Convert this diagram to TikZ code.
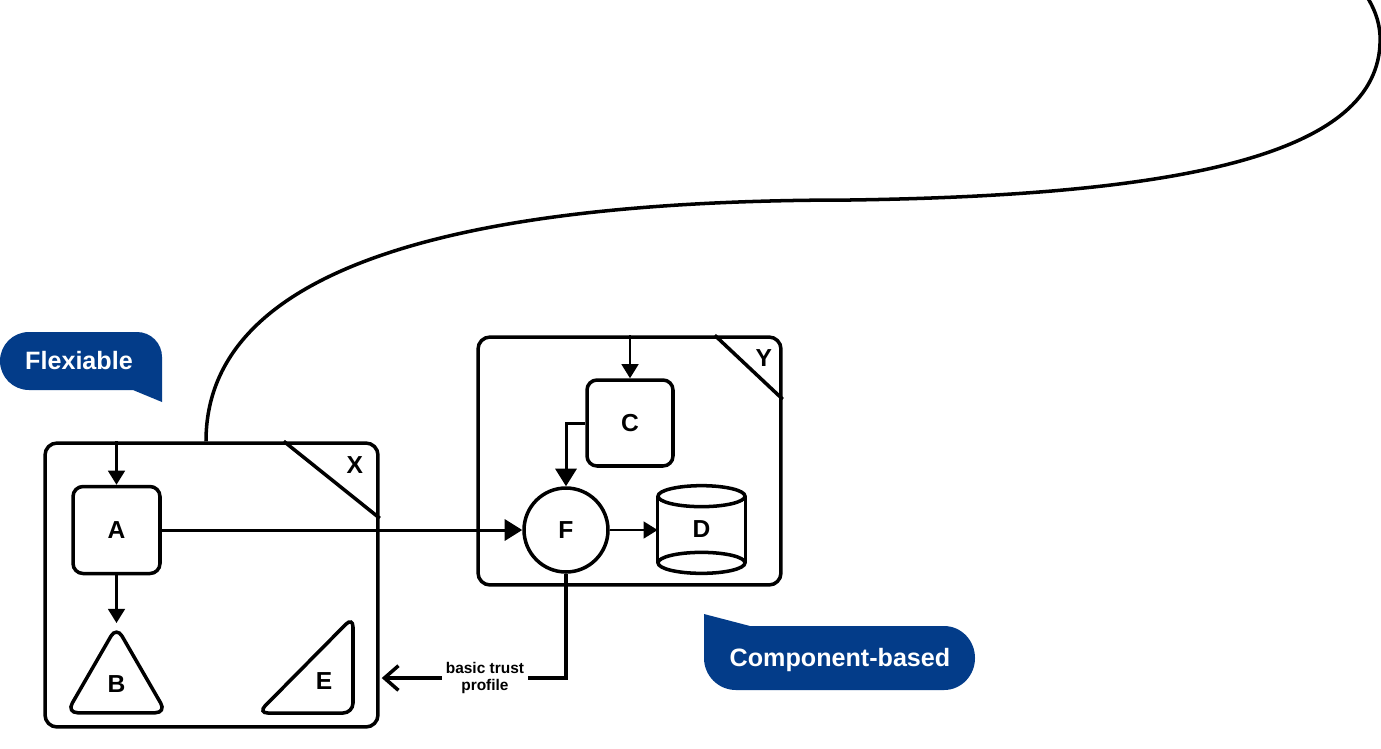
\documentclass[tikz,border=0pt]{standalone}
\usepackage{fontspec}
\setmainfont{Liberation Sans}
\usepackage{tikz}
\usetikzlibrary{arrows.meta,shapes.geometric,positioning,calc}
\definecolor{tagblue}{RGB}{3,60,137}

\begin{document}
\begin{tikzpicture}[
    x=0.02cm, y=-0.02cm,
    frame/.style={rectangle, draw, line width=2pt, rounded corners=0.24cm, inner sep=0pt},
    part/.style={draw, line width=2pt, inner sep=0pt, font=\fontsize{14}{16}\selectfont\bfseries},
    corner/.style={font=\fontsize{14}{16}\selectfont\bfseries},
    arrow/.style={-{Triangle[length=8pt,width=9.5pt]}, line width=1.4pt},
    bigarrow/.style={-{Triangle[length=10pt,width=12pt]}, line width=1.7pt},
    tag/.style={text=white, font=\fontsize{14.3}{16}\selectfont\bfseries}
]
\useasboundingbox[fill=white] (0,0) rectangle (1381,748);

% Containers
\node[frame, minimum width=6.66cm, minimum height=5.68cm] (X) at (211.5,585) {};
\node[frame, minimum width=6.06cm, minimum height=4.96cm] (Y) at (629.5,461) {};
\draw[line width=2pt] ([xshift=-1.92cm]X.north east) -- ([yshift=-1.54cm]X.north east);
\draw[line width=2pt] ([xshift=-1.36cm]Y.north east) -- ([yshift=-1.28cm]Y.north east);
\node[corner] (xlbl) at ([xshift=-0.5cm,yshift=-0.48cm]X.north east) {X};
\node[corner] (ylbl) at ([xshift=-0.38cm,yshift=-0.46cm]Y.north east) {Y};

% Parts in X
\node[part, rectangle, rounded corners=0.2cm, minimum size=1.74cm] (A) at (116.5,530) {A};
\node[part, regular polygon, regular polygon sides=3, rounded corners=0.22cm, minimum size=2.3cm] (B) at (116.5,684) {B};
\node[corner] (E) at (324,681) {E};
\draw[line width=2pt, rounded corners=0.2cm] (353,617) -- (353,713) -- (258,713) -- cycle;

% Parts in Y
\node[part, rectangle, rounded corners=0.2cm, minimum size=1.72cm] (C) at (630,423) {C};
\node[part, circle, minimum size=1.68cm] (F) at (566,530) {F};
\node[corner, minimum width=1.74cm, minimum height=1.74cm, inner sep=0pt, yshift=-0.08cm] (D) at (701.5,525.5) {D};
\draw[line width=2pt] ([yshift=-0.21cm]D.north) ellipse[x radius=0.87cm, y radius=0.21cm];
\draw[line width=2pt] ([yshift=0.21cm]D.south) ellipse[x radius=0.87cm, y radius=0.21cm];
\draw[line width=2pt] ([yshift=-0.21cm]D.north west) -- ([yshift=0.21cm]D.south west);
\draw[line width=2pt] ([yshift=-0.21cm]D.north east) -- ([yshift=0.21cm]D.south east);

% Arrows
\draw[arrow] (A.north |- X.north) -- (A.north);
\draw[arrow] (A.south) -- (B.corner 1);
\draw[bigarrow] (A.east) -- (F.west);
\draw[arrow] (C.north |- Y.north) -- (C.north);
\draw[bigarrow] (C.west) -| (F.north);
\draw[arrow] (F.east) -- (F.east -| D.west);
\draw[-{Straight Barb[length=8pt,width=14pt]}, line width=2pt] (F.south) |- ([xshift=0.04cm]X.east |- 0,678)
    node[pos=0.72, fill=white, inner sep=2pt, align=center, font=\fontsize{8.8}{10}\selectfont\bfseries] (trust) {basic trust\\profile};

% Long link
\coordinate (lnk) at (X.north -| 206,0);
\draw[line width=2pt] (lnk) .. controls (206,270) and (450,200) .. (850,200)
    .. controls (1200,195) and (1385,150) .. (1380,35)
    .. controls (1379,20) and (1374,8) .. (1366,-5);

% Tags
\fill[tagblue] (29,332) -- (137,332) to[out=0,in=90] (162,357) -- (162,402) -- (133,390)
    -- (29,390) to[out=180,in=270] (0,361) to[out=90,in=180] cycle;
\node[tag] (flex) at (79,361) {Flexiable};
\fill[tagblue] (704,614) -- (750,626) -- (944,626) to[out=0,in=90] (975,658)
    to[out=270,in=0] (944,690) -- (736,690) to[out=180,in=270] (704,658) -- cycle;
\node[tag] (comp) at (840,660) {Component-based};

\end{tikzpicture}
\end{document}
